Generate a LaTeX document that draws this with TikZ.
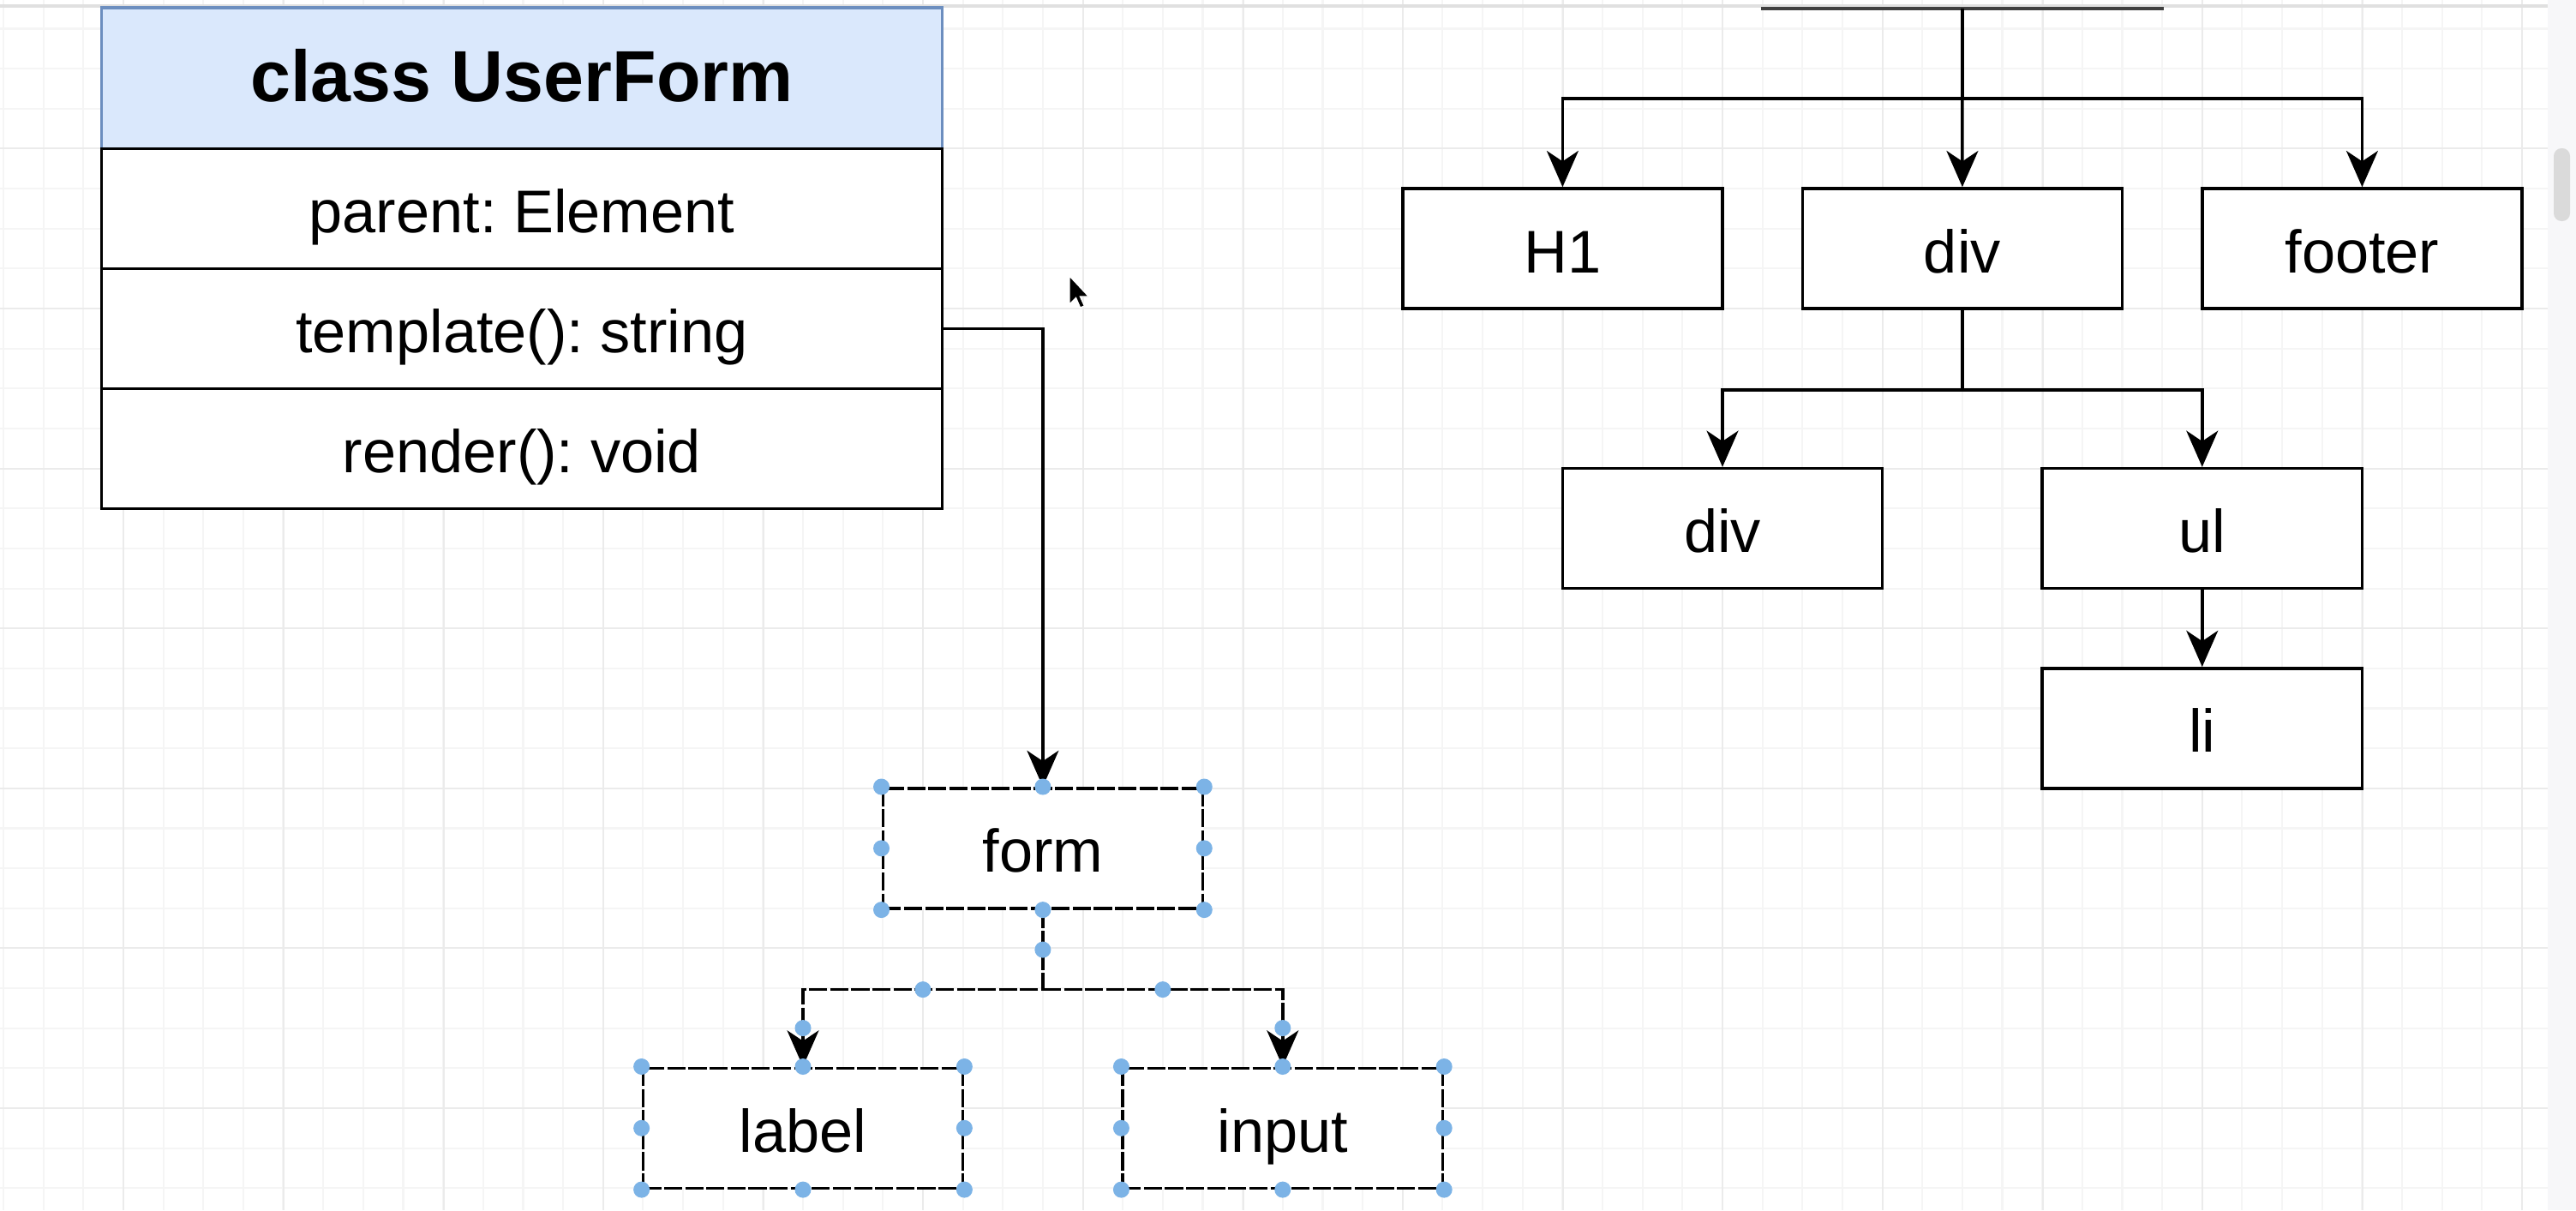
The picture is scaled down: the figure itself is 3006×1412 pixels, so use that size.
\documentclass[tikz,border=0pt]{standalone}
\usepackage{fontspec}
\setmainfont{Liberation Sans}
\usetikzlibrary{arrows.meta,calc}
\definecolor{cHead}{HTML}{DAE8FC}
\definecolor{cHeadLine}{HTML}{6C8EBF}
\definecolor{cGrid}{HTML}{F5F5F5}
\definecolor{cGridMaj}{HTML}{EBEBEB}
\definecolor{cHandle}{HTML}{7CB3E6}
\definecolor{cBar}{HTML}{F7F7F9}
\definecolor{cThumb}{HTML}{DADADA}
\newcommand{\uifont}{\fontsize{20}{24}\selectfont\frenchspacing}

\begin{document}
\begin{tikzpicture}[x=0.01cm, y=-0.01cm,
  box/.style={draw, fill=white, line width=1pt, minimum width=3.73cm, minimum height=1.4cm, inner sep=0pt,
    text height=17pt, text depth=1pt, font=\uifont},
  selbox/.style={box, dash pattern=on 6pt off 1pt},
  row/.style={box, minimum width=9.8cm},
  handle/.style={circle, fill=cHandle, inner sep=0pt, minimum size=0.19cm},
  link/.style={->, line width=1pt},
  >={Stealth[length=12pt, width=10.5pt, inset=3.5pt]}]
  \useasboundingbox (0,0) rectangle (3006,1412);
  \fill[white] (0,0) rectangle (3006,1412);
  % canvas grid
  \foreach \k in {0,...,63} \draw[cGrid, line width=0.6pt] ({4+46.65*\k},0) -- ({4+46.65*\k},1412);
  \foreach \k in {0,...,29} \draw[cGrid, line width=0.6pt] (0,{33.45+46.65*\k}) -- (2973,{33.45+46.65*\k});
  \foreach \k in {0,...,15} \draw[cGridMaj, line width=0.6pt] ({144.4+186.6*\k},0) -- ({144.4+186.6*\k},1412);
  \foreach \k in {0,...,6} \draw[cGridMaj, line width=0.6pt] (0,{173.4+186.6*\k}) -- (2973,{173.4+186.6*\k});
  \draw[black!12, line width=1pt] (0,7) -- (2973,7);
  \fill[cBar] (2973,0) rectangle (3006,1412);
  \fill[cThumb, rounded corners=0.09cm] (2980,173) rectangle (2999,258);

  % class box
  \node[draw=cHeadLine, fill=cHead, line width=1pt, minimum width=9.8cm, minimum height=1.644cm,
        text height=17.5pt, text depth=2pt, font=\bfseries\fontsize{24}{28}\selectfont] (head) at (609,91.2) {class UserForm};
  \node[row] (parent) at (609,243.4) {parent: Element};
  \node[row] (tmpl) at (609,383.3) {template(): string};
  \node[row] (rend) at (609,523.3) {render(): void};

  % DOM tree
  \coordinate (root) at (2290,10);
  \draw[black!75, line width=1pt] (2055,10) -- (2525,10);
  \node[box] (h1) at (1823.4,290) {H1};
  \node[box] (div) at (2289.9,290) {div};
  \node[box] (footer) at (2756.4,290) {footer};
  \node[box] (div2) at (2010,616.6) {div};
  \node[box] (ul) at (2569.75,616.6) {ul};
  \node[box] (li) at (2569.75,849.8) {li};
  \draw[link] (root) -- (div.north);
  \draw[link] (root) -- ++(0,105) -| (h1.north);
  \draw[link] (root) -- ++(0,105) -| (footer.north);
  \draw[link] (div.south) -- ++(0,93) -| (div2.north);
  \draw[link] (div.south) -- ++(0,93) -| (ul.north);
  \draw[link] (ul) -- (li);

  % selected form part
  \node[selbox] (form) at (1216.9,989.8) {form};
  \node[selbox] (label) at (937,1316.3) {label};
  \node[selbox] (input) at (1496.8,1316.3) {input};
  \draw[link] (tmpl.east) -| (form.north);
  \coordinate (fbus) at ($(form.south)+(0,93)$);
  \draw[link, dash pattern=on 6pt off 1pt] (form.south) -- (fbus) -| (label.north);
  \draw[link, dash pattern=on 6pt off 1pt] (fbus) -| (input.north);
  \foreach \n in {form,label,input}
    \foreach \a/\s in {north west/nw,north/n,north east/ne,east/e,south east/se,south/s,south west/sw,west/w}
      \node[handle] (\n-\s) at (\n.\a) {};
  \node[handle] (fb-s) at ($(form.south)!0.5!(fbus)$) {};
  \node[handle] (fb-l) at ($(fbus)!0.5!(label.north |- fbus)$) {};
  \node[handle] (fb-r) at ($(fbus)!0.5!(input.north |- fbus)$) {};
  \node[handle] (fb-ld) at ($(label.north)!0.5!(label.north |- fbus)$) {};
  \node[handle] (fb-rd) at ($(input.north)!0.5!(input.north |- fbus)$) {};

  % pointer
  \filldraw[fill=black, draw=white, line width=0.4pt] (1248,322) -- (1248,355) -- (1255.5,347.5) -- (1260.5,359)
    -- (1265.5,357) -- (1260.5,346) -- (1270.5,346) -- cycle;
\end{tikzpicture}
\end{document}
